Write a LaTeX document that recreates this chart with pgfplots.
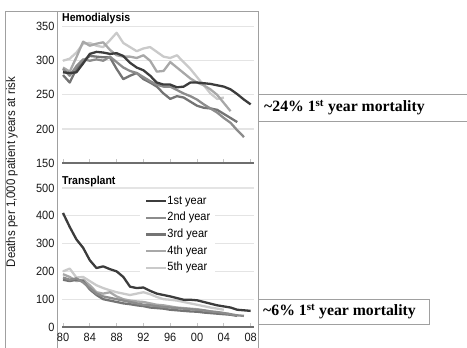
\documentclass[border=0pt]{standalone}
\usepackage{fontspec}
\setmainfont{Liberation Sans}
\newfontfamily\chartfont[FakeStretch=0.92]{Liberation Sans}
\newfontfamily\annfont{Liberation Serif}
\usepackage{pgfplots}
\pgfplotsset{compat=1.18}
\definecolor{c1}{HTML}{3C3C3C}
\definecolor{c2}{HTML}{8C8C8C}
\definecolor{c3}{HTML}{747474}
\definecolor{c4}{HTML}{A8A8A8}
\definecolor{c5}{HTML}{CACACA}
\definecolor{gridc}{HTML}{E4E4E4}
\definecolor{axc}{HTML}{6E6E6E}
\definecolor{framec}{HTML}{A0A0A0}
\pgfplotsset{panel/.style={
  scale only axis, width=192bp,
  xmin=1979.85, xmax=2008.5,
  axis x line*=bottom, axis y line*=left,
  y axis line style={draw=none},
  x axis line style={axc, line width=2.2bp, -},
  xtick={1980,1984,...,2008},
  major tick length=4bp, tick align=inside,
  xtick style={gridc!70!gray, line width=0.8bp},
  ytick style={draw=none},
  ymajorgrids, grid style={gridc, line width=1.3bp},
  /pgf/number format/assume math mode=true,
  tick label style={font=\chartfont\fontsize{12}{13}\selectfont, text=black!90},
  yticklabel style={xshift=-4bp},
  xticklabel style={yshift=-3bp},
  every axis plot/.append style={line width=2.3bp, no markers, line join=round},
  clip=false}}
\begin{document}
\begin{tikzpicture}
\useasboundingbox (0,0) rectangle (467bp,348bp);
% frame
\draw[framec, line width=0.8bp] (5bp,0) -- (5bp,337bp) -- (258bp,337bp) -- (258bp,0);
\draw[framec, line width=0.8bp] (57bp,0) -- (57bp,337bp);
% y label
\node[rotate=90, font=\chartfont\fontsize{12.5}{13}\selectfont, text=black!90] at (12bp,176bp) {Deaths per 1,000 patient years at risk};
% Hemodialysis
\begin{axis}[panel, height=150bp, at={(62bp,185bp)}, anchor=south west,
  ymin=150, ymax=370, ytick={150,200,...,350}, xticklabels={}]
\addplot[c5] coordinates {(1980,300)(1981,303)(1982,312)(1983,325)(1984,326)(1985,322)(1986,320)(1987,330)(1988,341)(1989,326)(1990,320)(1991,314)(1992,318)(1993,320)(1994,313)(1995,306)(1996,304)(1997,308)(1998,298)(1999,288)(2000,276)(2001,264)(2002,252)(2003,244)(2004,246)};
\addplot[c4] coordinates {(1980,290)(1981,284)(1982,305)(1983,328)(1984,322)(1985,325)(1986,327)(1987,316)(1988,308)(1989,306)(1990,306)(1991,304)(1992,308)(1993,300)(1994,284)(1995,285)(1996,298)(1997,290)(1998,282)(1999,274)(2000,268)(2001,264)(2002,258)(2003,250)(2004,238)(2005,226)};
\addplot[c3] coordinates {(1980,279)(1981,268)(1982,288)(1983,300)(1984,307)(1985,306)(1986,305)(1987,305)(1988,288)(1989,273)(1990,278)(1991,282)(1992,273)(1993,268)(1994,262)(1995,252)(1996,244)(1997,248)(1998,246)(1999,240)(2000,234)(2001,231)(2002,230)(2003,228)(2004,222)(2005,216)(2006,210)};
\addplot[c2] coordinates {(1980,288)(1981,278)(1982,292)(1983,302)(1984,300)(1985,302)(1986,300)(1987,306)(1988,298)(1989,290)(1990,285)(1991,282)(1992,276)(1993,270)(1994,265)(1995,262)(1996,262)(1997,257)(1998,252)(1999,248)(2000,243)(2001,236)(2002,230)(2003,224)(2004,216)(2005,209)(2006,198)(2007,188)};
\addplot[c1] coordinates {(1980,283)(1981,282)(1982,283)(1983,296)(1984,310)(1985,313)(1986,312)(1987,310)(1988,311)(1989,307)(1990,297)(1991,290)(1992,286)(1993,278)(1994,268)(1995,265)(1996,265)(1997,261)(1998,262)(1999,268)(2000,268)(2001,267)(2002,266)(2003,264)(2004,262)(2005,258)(2006,251)(2007,243)(2008,236)};
\node[anchor=north west, inner sep=0pt, font=\chartfont\bfseries\fontsize{11.5}{12}\selectfont] at (rel axis cs:0,1) {Hemodialysis};
\end{axis}
% Transplant
\begin{axis}[panel, height=151bp, at={(62bp,21bp)}, anchor=south west,
  ymin=0, ymax=543, ytick={0,100,...,500},
  xticklabels={80,84,88,92,96,00,04,08},
  legend cell align=left,
  legend style={at={(rel axis cs:0.406,0.89)}, anchor=north west, draw=none, fill=white,
    inner xsep=5bp, inner ysep=3bp,
    font=\chartfont\fontsize{12}{13}\selectfont,
    nodes={inner sep=0pt, text height=8.5pt, text depth=2.5pt},
    row sep=5.7bp,
    /tikz/every even column/.append style={column sep=3bp}},
  legend image code/.code={\draw[#1, line width=2.3bp] (0bp,0bp) -- (20bp,0bp);}]
\addlegendimage{c1}\addlegendentry{1st year}
\addlegendimage{c2}\addlegendentry{2nd year}
\addlegendimage{c3}\addlegendentry{3rd year}
\addlegendimage{c4}\addlegendentry{4th year}
\addlegendimage{c5}\addlegendentry{5th year}
\addplot[c5, forget plot] coordinates {(1980,200)(1981,210)(1982,178)(1983,180)(1984,165)(1985,150)(1986,140)(1987,132)(1988,125)(1989,120)(1990,115)(1991,120)(1992,125)(1993,118)(1994,108)(1995,100)(1996,98)(1997,95)(1998,90)(1999,85)(2000,80)(2001,75)(2002,70)(2003,66)(2004,62)};
\addplot[c4, forget plot] coordinates {(1980,190)(1981,180)(1982,165)(1983,170)(1984,150)(1985,125)(1986,120)(1987,125)(1988,110)(1989,100)(1990,95)(1991,92)(1992,90)(1993,85)(1994,80)(1995,78)(1996,74)(1997,70)(1998,68)(1999,66)(2000,64)(2001,60)(2002,56)(2003,52)(2004,50)(2005,46)};
\addplot[c3, forget plot] coordinates {(1980,170)(1981,165)(1982,170)(1983,165)(1984,135)(1985,115)(1986,100)(1987,95)(1988,90)(1989,85)(1990,82)(1991,78)(1992,75)(1993,70)(1994,68)(1995,66)(1996,62)(1997,60)(1998,58)(1999,56)(2000,55)(2001,52)(2002,50)(2003,48)(2004,46)(2005,44)(2006,40)};
\addplot[c2, forget plot] coordinates {(1980,178)(1981,170)(1982,175)(1983,160)(1984,140)(1985,120)(1986,110)(1987,105)(1988,100)(1989,95)(1990,90)(1991,85)(1992,80)(1993,78)(1994,75)(1995,72)(1996,70)(1997,68)(1998,66)(1999,64)(2000,62)(2001,60)(2002,56)(2003,54)(2004,50)(2005,46)(2006,42)(2007,40)};
\addplot[c1, forget plot] coordinates {(1980,410)(1981,360)(1982,315)(1983,285)(1984,240)(1985,212)(1986,218)(1987,208)(1988,200)(1989,180)(1990,145)(1991,140)(1992,142)(1993,130)(1994,120)(1995,115)(1996,110)(1997,104)(1998,98)(1999,98)(2000,96)(2001,90)(2002,84)(2003,78)(2004,74)(2005,70)(2006,62)(2007,60)(2008,58)};
\node[anchor=north west, inner sep=0pt, font=\chartfont\bfseries\fontsize{11.5}{12}\selectfont] at (rel axis cs:0,1) {Transplant};
\end{axis}
% annotations
\draw[framec, line width=0.8bp] (258bp,254bp) -- (467bp,254bp);
\draw[framec, line width=0.8bp] (258bp,227bp) -- (467bp,227bp);
\node[anchor=west, inner sep=0pt, font=\annfont\bfseries\fontsize{15.8}{17}\selectfont] at (264bp,240.5bp) {\textasciitilde24\% 1\textsuperscript{st} year mortality};
\draw[framec, line width=0.8bp] (258bp,24bp) rectangle (429bp,49bp);
\node[anchor=west, inner sep=0pt, font=\annfont\bfseries\fontsize{15.8}{17}\selectfont] at (263bp,36.5bp) {\textasciitilde6\% 1\textsuperscript{st} year mortality};
\end{tikzpicture}
\end{document}
